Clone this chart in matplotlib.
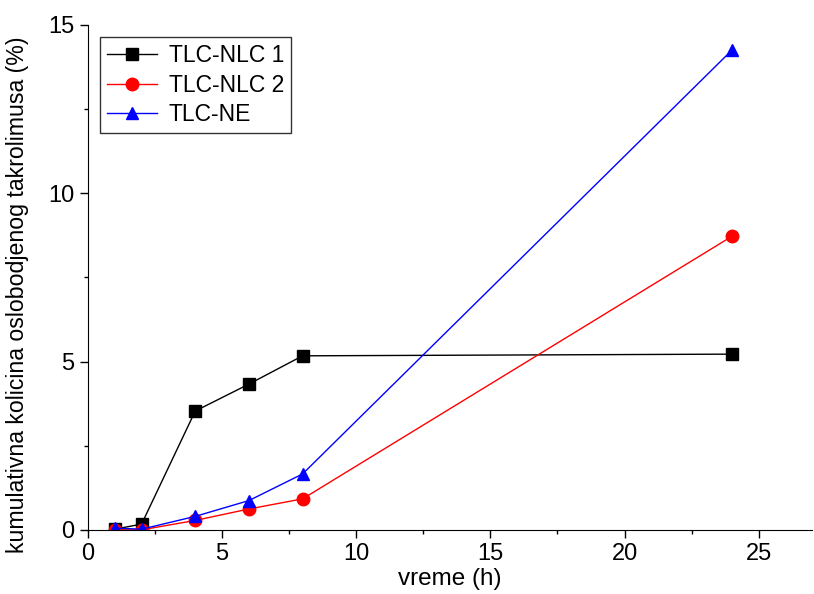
import matplotlib.pyplot as plt
import numpy as np

plt.rcParams['font.family'] = ['Liberation Sans', 'DejaVu Sans']

# release time points (h)
time_h = [1, 2, 4, 6, 8, 24]
# cumulative released tacrolimus (%)
nlc1 = [0.02, 0.17, 3.53, 4.33, 5.17, 5.22]
nlc2 = [0.0, 0.0, 0.28, 0.62, 0.92, 8.72]
ne = [0.05, 0.02, 0.40, 0.87, 1.66, 14.25]

fig = plt.figure(figsize=(8.14, 5.94), dpi=100)
ax = fig.add_axes([0.108, 0.108, 0.89, 0.85])

ax.plot(time_h, nlc1, color="black", marker="s", markersize=8, linewidth=1, label="TLC-NLC 1")
ax.plot(time_h, nlc2, color="red", marker="o", markersize=9, linewidth=1, label="TLC-NLC 2")
ax.plot(time_h, ne, color="blue", marker="^", markersize=9, linewidth=1, label="TLC-NE")

ax.set_xlim(0, 27)
ax.set_ylim(0, 15)
ax.set_xticks([0, 5, 10, 15, 20, 25])
ax.set_yticks([0, 5, 10, 15])
ax.set_xticks(np.arange(2.5, 27, 5), minor=True)
ax.set_yticks([2.5, 7.5, 12.5], minor=True)
ax.tick_params(which="major", direction="out", length=6, width=1, labelsize=17)
ax.tick_params(which="minor", direction="out", length=3, width=1)

ax.spines["top"].set_visible(False)
ax.spines["right"].set_visible(False)

ax.set_xlabel("vreme (h)", fontsize=17.5, labelpad=2)
ax.set_ylabel("kumulativna kolicina oslobodjenog takrolimusa (%)", fontsize=16.7)
ax.yaxis.set_label_coords(-0.082, 0.465)

leg = ax.legend(loc="upper left", bbox_to_anchor=(0.007, 0.99), fontsize=16.5, fancybox=False,
                edgecolor="black", handlelength=2.2, borderpad=0.3, labelspacing=0.3,
                handletextpad=0.5, borderaxespad=0.3)
leg.get_frame().set_linewidth(1)

plt.savefig("out.png", dpi=100)
